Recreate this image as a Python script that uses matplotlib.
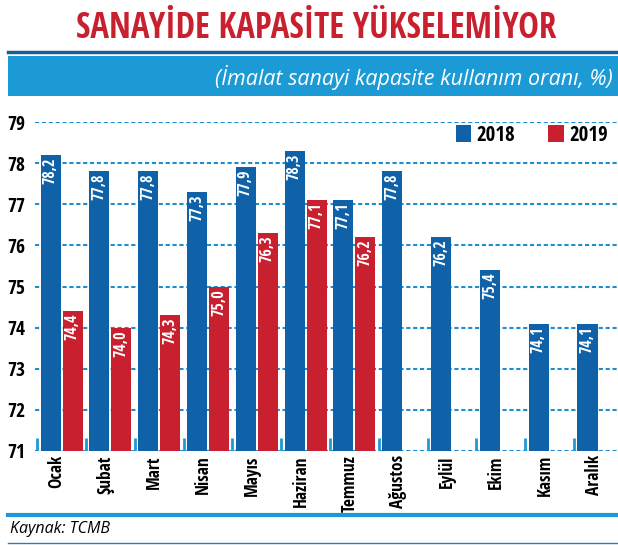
import numpy as np
import matplotlib.pyplot as plt
from matplotlib.lines import Line2D

months = ["Ocak", "Şubat", "Mart", "Nisan", "Mayıs", "Haziran", "Temmuz",
          "Ağustos", "Eylül", "Ekim", "Kasım", "Aralık"]
values_2018 = [78.2, 77.8, 77.8, 77.3, 77.9, 78.3, 77.1, 77.8, 76.2, 75.4, 74.1, 74.1]
values_2019 = [74.4, 74.0, 74.3, 75.0, 76.3, 77.1, 76.2]
y_ticks = [71, 72, 73, 74, 75, 76, 77, 78, 79]

BLUE = "#0f62a8"
RED = "#c8202e"
LIGHT = "#1b9ad6"
GRID = "#1d8fcc"
NARROW = ["Noto Sans Condensed", "Open Sans Condensed", "Roboto Condensed",
          "Liberation Sans Narrow", "Noto Sans", "DejaVu Sans"]

W, H = 618, 545
fig = plt.figure(figsize=(W / 100, H / 100), dpi=100)
fig.patch.set_facecolor("white")


def fx(px):
    return px / W


def fy(py):
    return 1 - py / H


# title
fig.text(fx(316), fy(29), "SANAYİDE KAPASİTE YÜKSELEMİYOR", color=RED,
         fontsize=25, fontweight="semibold", family=NARROW, fontstretch="extra-condensed",
         ha="center", va="center")

# header band
fig.add_artist(Line2D([fx(8), 1], [fy(52), fy(52)], color="#1a5f94", lw=2.5))
fig.add_artist(plt.Rectangle((fx(8), fy(96)), 1 - fx(8), fy(56) - fy(96),
                             color=LIGHT, lw=0))
fig.text(fx(613), fy(78), "(İmalat sanayi kapasite kullanım oranı, %)", color="white",
         fontsize=15.5, style="italic", family=["Open Sans", "DejaVu Sans"],
         ha="right", va="center")

# footer
fig.add_artist(Line2D([fx(8), 1], [fy(515), fy(515)], color=LIGHT, lw=3))
fig.add_artist(Line2D([fx(8), 1], [fy(543), fy(543)], color="#2a7fb8", lw=1))
fig.text(fx(10), fy(529), "Kaynak: TCMB", fontsize=11.5, style="italic",
         family=["Open Sans", "DejaVu Sans"], ha="left", va="center")

ax = fig.add_axes([fx(35), fy(451), 1 - fx(35), fy(122) - fy(451)])
x = np.arange(len(months))
x19 = np.arange(len(values_2019))
bw = 0.41
off = 0.225

for yv in y_ticks:
    ax.axhline(yv, color=GRID, lw=1.5, ls=(0, (2, 1.3)), zorder=1)

b18 = ax.bar(x - off, values_2018, bw, color=BLUE, zorder=3, label="2018")
b19 = ax.bar(x19 + off, values_2019, bw, color=RED, zorder=3, label="2019")

lab_kw = dict(rotation=90, color="white", fontsize=11.5, fontweight="bold",
              family=NARROW, fontstretch="condensed", ha="center", va="top", zorder=4)
for xi, v in zip(x - off, values_2018):
    ax.text(xi, v - 0.06, f"{v:.1f}".replace(".", ","), **lab_kw)
for xi, v in zip(x19 + off, values_2019):
    ax.text(xi, v - 0.06, f"{v:.1f}".replace(".", ","), **lab_kw)

# small group ticks on the baseline
for xi in x:
    ax.plot([xi - 0.5, xi - 0.5], [71, 71.32], color=LIGHT, lw=2, zorder=2,
            solid_capstyle="butt")

ax.set_xlim(-0.545, 11.40)
ax.set_ylim(71, 79)
ax.set_yticks(y_ticks)
ax.set_yticklabels([str(t) for t in y_ticks], fontsize=14, family=NARROW,
                   fontstretch="extra-condensed")
ax.set_xticks(x - 0.1)
ax.set_xticklabels(months, rotation=90, fontsize=12.5, fontweight="semibold",
                   family=NARROW, fontstretch="extra-condensed", va="top", ha="center")
ax.tick_params(length=0, pad=3)
ax.tick_params(axis="y", pad=7)
for s in ax.spines.values():
    s.set_visible(False)
ax.set_facecolor("none")

leg = ax.legend(handles=[b18, b19], loc="upper right", bbox_to_anchor=(0.99, 1.005),
                ncol=2, frameon=False, handlelength=0.75, handleheight=0.85,
                handletextpad=0.25, columnspacing=1.6, borderaxespad=0.0,
                borderpad=0.2, prop={"family": NARROW, "stretch": "extra-condensed",
                                     "weight": "medium", "size": 15})

fig.savefig("out.png", dpi=100)
